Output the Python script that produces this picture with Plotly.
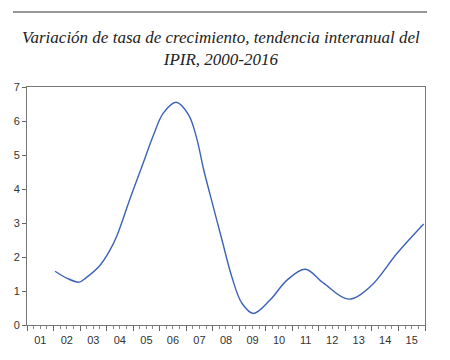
import plotly.graph_objects as go

dates = ["2002-01-22", "2002-07-01", "2002-12-20", "2003-04-01", "2003-10-01",
         "2004-02-17", "2004-05-18", "2004-11-20", "2005-05-22", "2005-10-08",
         "2006-02-20", "2006-08-15", "2007-02-03", "2007-05-26", "2007-08-25",
         "2007-11-28", "2008-05-08", "2008-09-20", "2009-02-06", "2009-07-15",
         "2010-03-03", "2010-10-20", "2011-06-28", "2012-03-07", "2013-02-14",
         "2013-12-10", "2014-12-13", "2015-12-13"]
values = [1.58, 1.38, 1.26, 1.40, 1.75,
          2.20, 2.60, 3.72, 4.78, 5.59,
          6.23, 6.55, 6.18, 5.49, 4.61,
          3.82, 2.50, 1.42, 0.64, 0.34,
          0.74, 1.32, 1.64, 1.23, 0.76,
          1.13, 2.11, 2.97]

title_lines = ["Variación de tasa de crecimiento, tendencia interanual del",
               "IPIR, 2000-2016"]

fig = go.Figure()
fig.add_trace(go.Scatter(x=dates, y=values, mode="lines",
                         line=dict(color="#3c62b8", width=1.4, shape="spline", smoothing=1.0),
                         hoverinfo="skip", showlegend=False))

tickfont = dict(family="Liberation Sans, Arial, sans-serif", size=11, color="#333333")

fig.update_layout(
    width=434, height=344,
    margin=dict(l=19, r=17, t=79, b=27, autoexpand=False),
    paper_bgcolor="white", plot_bgcolor="white",
    showlegend=False,
    xaxis=dict(
        type="date", range=["2001-01-01", "2016-01-01"],
        tick0="2001-01-01", dtick="M12", tickformat="%y", ticklabelmode="period",
        ticks="outside", ticklen=5, tickcolor="#666666", tickwidth=1,
        minor=dict(dtick="M3", ticks="outside", ticklen=3, tickcolor="#888888", showgrid=False),
        showline=True, linecolor="#777777", linewidth=1, mirror=True,
        showgrid=False, zeroline=False, tickfont=tickfont,
    ),
    yaxis=dict(
        range=[0, 7], tickvals=[0, 1, 2, 3, 4, 5, 6, 7],
        ticks="outside", ticklen=4, tickcolor="#666666",
        showline=True, linecolor="#777777", linewidth=1, mirror=True,
        showgrid=False, zeroline=False, tickfont=tickfont,
    ),
)

fig.add_annotation(
    text="<br>".join(title_lines), xref="paper", yref="paper",
    x=(221 - 27) / 398, y=(325 - 26) / 238, xanchor="center", yanchor="top",
    showarrow=False, align="center",
    font=dict(family="Liberation Serif", size=17, color="#222222", style="italic"),
)
fig.add_shape(type="line", xref="paper", yref="paper",
              x0=(13 - 27) / 398, x1=(427 - 27) / 398,
              y0=(325 - 12) / 238, y1=(325 - 12) / 238,
              line=dict(color="#333333", width=1.2))

fig.write_html("out.html")
